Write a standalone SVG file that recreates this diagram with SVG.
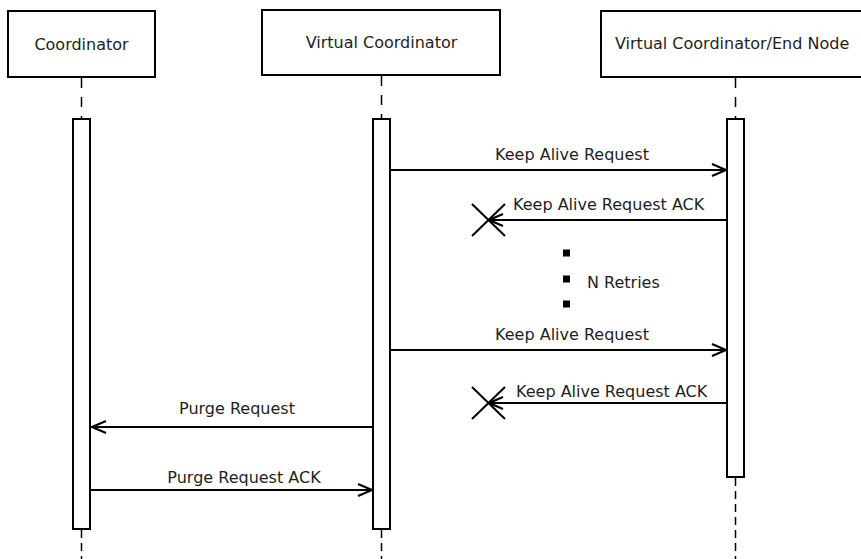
<svg xmlns="http://www.w3.org/2000/svg" width="861" height="559" viewBox="0 0 861 559">
  <style>
    .box { fill: #ffffff; stroke: #000000; stroke-width: 2; }
    .bar { fill: #ffffff; stroke: #000000; stroke-width: 2; }
    .life { stroke: #000000; stroke-width: 1.5; stroke-dasharray: 10 9; fill: none; }
    .lifeb { stroke: #000000; stroke-width: 1.5; stroke-dasharray: 8 5; fill: none; }
    .msg { stroke: #000000; stroke-width: 2; fill: none; }
    .head { stroke: #000000; stroke-width: 2; fill: none; stroke-linejoin: miter; }
    .lost { stroke: #000000; stroke-width: 2; fill: none; }
    text { font-family: "DejaVu Sans", "Liberation Sans", sans-serif; font-size: 16px; fill: #1e1e1e; }
  </style>
  <defs>
    <marker id="open" viewBox="0 0 16 14" refX="15" refY="7" markerWidth="16" markerHeight="14" markerUnits="userSpaceOnUse" orient="auto">
      <path d="M1,1 L15,7 L1,13" class="head"/>
    </marker>
  </defs>
  <rect width="861" height="559" fill="#ffffff"/>

  <g id="coordinator">
    <rect class="box" x="8" y="11" width="147" height="66"/>
    <text x="81.5" y="50" text-anchor="middle">Coordinator</text>
    <line class="life" x1="81.5" y1="78" x2="81.5" y2="118"/>
    <line class="lifeb" x1="81.5" y1="530" x2="81.5" y2="559"/>
    <rect class="bar" x="73" y="119" width="17" height="410"/>
  </g>

  <g id="virtual-coordinator">
    <rect class="box" x="262" y="10" width="238" height="65"/>
    <text x="381.5" y="48" text-anchor="middle">Virtual Coordinator</text>
    <line class="life" x1="381.5" y1="76" x2="381.5" y2="118"/>
    <line class="lifeb" x1="381.5" y1="530" x2="381.5" y2="559"/>
    <rect class="bar" x="373" y="119" width="17" height="410"/>
  </g>

  <g id="virtual-coordinator-end-node">
    <rect class="box" x="601" y="11" width="270" height="66"/>
    <text x="615" y="49">Virtual Coordinator/End Node</text>
    <line class="life" x1="735.5" y1="78" x2="735.5" y2="118"/>
    <line class="lifeb" x1="735.5" y1="478" x2="735.5" y2="559"/>
    <rect class="bar" x="727" y="119" width="17" height="358"/>
  </g>

  <g id="retries">
    <rect x="563" y="249.5" width="7" height="7" fill="#000"/>
    <rect x="563" y="275.5" width="7" height="7" fill="#000"/>
    <rect x="563" y="300.5" width="7" height="7" fill="#000"/>
    <text x="587" y="288">N Retries</text>
  </g>

  <g id="connectors">
    <line class="msg" x1="391" y1="170" x2="726" y2="170" marker-end="url(#open)"/>
    <text x="572" y="160" text-anchor="middle">Keep Alive Request</text>

    <line class="msg" x1="726" y1="220" x2="489" y2="220" marker-end="url(#open)"/>
    <path class="lost" d="M472,204 L505,236 M472,236 L505,204"/>
    <text x="513" y="210">Keep Alive Request ACK</text>

    <line class="msg" x1="391" y1="350" x2="726" y2="350" marker-end="url(#open)"/>
    <text x="572" y="340" text-anchor="middle">Keep Alive Request</text>

    <line class="msg" x1="726" y1="403" x2="489" y2="403" marker-end="url(#open)"/>
    <path class="lost" d="M472,387 L505,419 M472,419 L505,387"/>
    <text x="516" y="397">Keep Alive Request ACK</text>

    <line class="msg" x1="372" y1="427" x2="92" y2="427" marker-end="url(#open)"/>
    <text x="237" y="414" text-anchor="middle">Purge Request</text>

    <line class="msg" x1="91" y1="490" x2="372" y2="490" marker-end="url(#open)"/>
    <text x="244" y="483" text-anchor="middle">Purge Request ACK</text>
  </g>
</svg>
